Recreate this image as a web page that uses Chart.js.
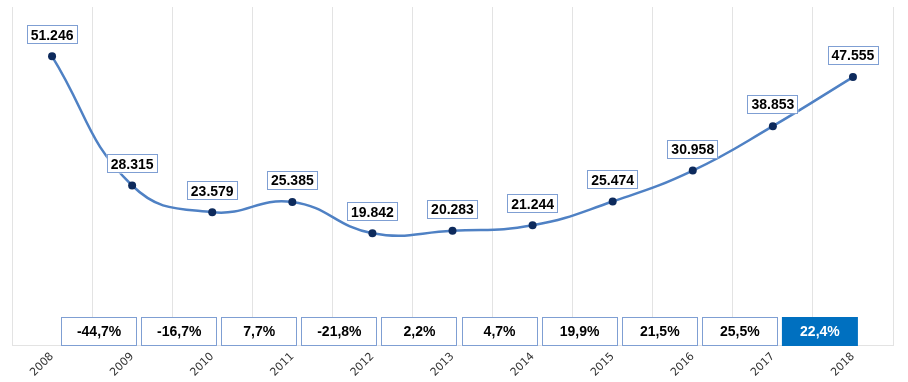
<!DOCTYPE html>
<html>
<head>
<meta charset="utf-8">
<script src="https://cdn.jsdelivr.net/npm/chart.js@4/dist/chart.umd.min.js"></script>
<style>
  html, body { margin: 0; padding: 0; background: #fff; }
  #wrap { width: 908px; height: 382px; }
</style>
</head>
<body>
<div id="wrap"><canvas id="myChart"></canvas></div>
<script>
/* Data */
const years = ['2008', '2009', '2010', '2011', '2012', '2013', '2014', '2015', '2016', '2017', '2018'];
const values = [51246, 28315, 23579, 25385, 19842, 20283, 21244, 25474, 30958, 38853, 47555];
// year-on-year change, shown in the boxes along the bottom
const changes = ['', '-44,7%', '-16,7%', '7,7%', '-21,8%', '2,2%', '4,7%', '19,9%', '21,5%', '25,5%', '22,4%'];

function fmt(v) {
  return String(v).replace(/\B(?=(\d{3})+(?!\d))/g, '.');
}

function drawBox(ctx, x, y, w, h, fill, stroke) {
  ctx.fillStyle = fill;
  ctx.fillRect(x, y, w, h);
  if (stroke) {
    ctx.strokeStyle = stroke;
    ctx.lineWidth = 1;
    ctx.strokeRect(Math.round(x) + 0.5, Math.round(y) + 0.5, Math.round(w) - 1, Math.round(h) - 1);
  }
}

/* Boxed labels */
const boxLabels = {
  id: 'boxLabels',
  afterDatasetsDraw(chart) {
    const ctx = chart.ctx;
    const meta = chart.getDatasetMeta(0);
    const xScale = chart.scales.x;
    const area = chart.chartArea;

    ctx.save();
    ctx.font = 'bold 14px "Liberation Sans", Arial, sans-serif';
    ctx.textAlign = 'center';
    ctx.textBaseline = 'middle';

    // value labels above the points
    meta.data.forEach(function (pt, i) {
      const txt = fmt(values[i]);
      const w = ctx.measureText(txt).width + 8;
      const h = 19;
      const bx = pt.x - w / 2;
      const by = pt.y - 12 - h;
      drawBox(ctx, bx, by, w, h, '#ffffff', '#7F9FD3');
      ctx.fillStyle = '#000000';
      ctx.fillText(txt, pt.x, by + h / 2 + 1);
    });

    // change boxes
    changes.forEach(function (txt, i) {
      if (!txt) return;
      const cx = (xScale.getPixelForValue(i - 1) + xScale.getPixelForValue(i)) / 2 + 7;
      const w = 76;
      const h = 29;
      const bx = cx - w / 2;
      const by = area.bottom + 1 - h;
      const last = i === changes.length - 1;
      drawBox(ctx, bx, by, w, h, last ? '#0070C0' : '#ffffff', last ? null : '#7F9FD3');
      ctx.fillStyle = last ? '#ffffff' : '#000000';
      ctx.fillText(txt, cx, by + h / 2 + 1);
    });
    ctx.restore();
  }
};

const ctx = document.getElementById('myChart').getContext('2d');

// eslint-disable-next-line no-undef
const chart = new Chart(ctx, {
  type: 'line',
  data: {
    labels: years,
    datasets: [{
      data: values,
      borderColor: '#4F81C4',
      borderWidth: 2.5,
      tension: 0.45,
      pointRadius: 4,
      pointBackgroundColor: '#0D2A5C',
      pointBorderColor: '#0D2A5C',
      pointBorderWidth: 0,
      clip: false
    }]
  },
  options: {
    responsive: true,
    maintainAspectRatio: false,
    animation: false,
    layout: { padding: { left: 12, right: 15, top: 7, bottom: 0 } },
    plugins: {
      legend: { display: false },
      tooltip: { enabled: false }
    },
    scales: {
      x: {
        offset: true,
        grid: { offset: true, color: '#E3E3E3', drawTicks: false },
        border: { color: '#E3E3E3' },
        ticks: {
          autoSkip: false,
          minRotation: 45,
          maxRotation: 45,
          padding: 5,
          color: '#333333',
          font: { family: '"DejaVu Sans", Verdana, sans-serif', size: 11 }
        },
        afterFit: function (scale) { scale.height = 37; }
      },
      y: {
        display: false,
        min: 0,
        max: 60000
      }
    }
  },
  plugins: [boxLabels]
});
</script>
</body>
</html>
